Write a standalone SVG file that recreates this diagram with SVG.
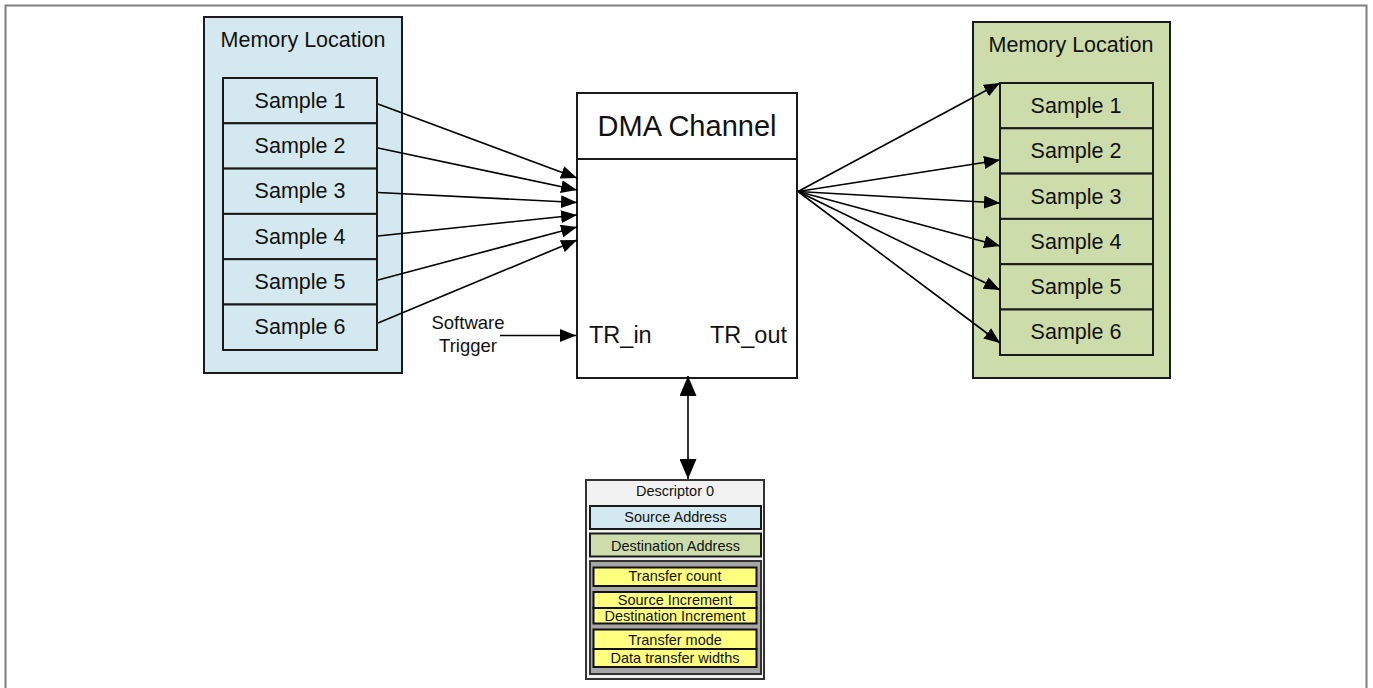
<svg xmlns="http://www.w3.org/2000/svg" width="1373" height="688" viewBox="0 0 1373 688">
<defs>
<style>
text{font-family:"Liberation Sans",Arial,sans-serif;fill:#111;text-anchor:middle}
.blue{fill:#d4e9ef;stroke:#1a1a1a;stroke-width:2}
.green{fill:#cddcab;stroke:#1a1a1a;stroke-width:2}
.white{fill:#fff;stroke:#1a1a1a;stroke-width:2}
.yel{fill:#ffff80;stroke:#111;stroke-width:2}
.lbl{font-size:21.5px}
.sm{font-size:14.5px}
.conn line{stroke:#000;stroke-width:1.6;fill:none}
</style>
<marker id="ah" markerUnits="userSpaceOnUse" markerWidth="16" markerHeight="13" refX="16" refY="6.5" orient="auto"><path d="M0,0 L16,6.5 L0,13 z" fill="#000"/></marker>
<marker id="big" markerUnits="userSpaceOnUse" markerWidth="20" markerHeight="17" refX="20" refY="8.5" orient="auto"><path d="M0,0 L20,8.5 L0,17 z" fill="#000"/></marker>
<marker id="bigs" markerUnits="userSpaceOnUse" markerWidth="20" markerHeight="17" refX="0" refY="8.5" orient="auto"><path d="M20,0 L0,8.5 L20,17 z" fill="#000"/></marker>
</defs>
<rect x="0" y="0" width="1373" height="688" fill="#fff"/>
<rect x="5.5" y="5.5" width="1361" height="700" fill="none" stroke="#7f7f7f" stroke-width="2"/>

<g id="src-memory">
<rect class="blue" x="204" y="17" width="198" height="356"/>
<text class="lbl" x="303" y="47">Memory Location</text>
<rect class="blue" x="223" y="78" width="154" height="45.3"/>
<text class="lbl" x="300" y="108">Sample 1</text>
<rect class="blue" x="223" y="123.3" width="154" height="45.3"/>
<text class="lbl" x="300" y="153">Sample 2</text>
<rect class="blue" x="223" y="168.6" width="154" height="45.3"/>
<text class="lbl" x="300" y="198">Sample 3</text>
<rect class="blue" x="223" y="213.9" width="154" height="45.3"/>
<text class="lbl" x="300" y="244">Sample 4</text>
<rect class="blue" x="223" y="259.2" width="154" height="45.3"/>
<text class="lbl" x="300" y="289">Sample 5</text>
<rect class="blue" x="223" y="304.5" width="154" height="45.5"/>
<text class="lbl" x="300" y="334">Sample 6</text>
</g>

<g id="dst-memory">
<rect class="green" x="973" y="22" width="197" height="356"/>
<text class="lbl" x="1071" y="52">Memory Location</text>
<rect class="green" x="1000" y="83" width="153" height="45.3"/>
<text class="lbl" x="1076" y="113">Sample 1</text>
<rect class="green" x="1000" y="128.3" width="153" height="45.3"/>
<text class="lbl" x="1076" y="158">Sample 2</text>
<rect class="green" x="1000" y="173.6" width="153" height="45.3"/>
<text class="lbl" x="1076" y="204">Sample 3</text>
<rect class="green" x="1000" y="218.9" width="153" height="45.3"/>
<text class="lbl" x="1076" y="249">Sample 4</text>
<rect class="green" x="1000" y="264.2" width="153" height="45.3"/>
<text class="lbl" x="1076" y="294">Sample 5</text>
<rect class="green" x="1000" y="309.5" width="153" height="45.5"/>
<text class="lbl" x="1076" y="339">Sample 6</text>
</g>

<g id="dma-channel">
<rect class="white" x="577" y="93" width="220" height="285"/>
<line x1="577" y1="159" x2="797" y2="159" stroke="#1a1a1a" stroke-width="2"/>
<text x="687" y="136" style="font-size:29px">DMA Channel</text>
<text x="589" y="343" style="font-size:23.5px;text-anchor:start">TR_in</text>
<text x="787" y="343" style="font-size:23.5px;text-anchor:end">TR_out</text>
</g>

<g id="software-trigger">
<text x="468" y="329" style="font-size:18.5px">Software</text>
<text x="468" y="352" style="font-size:18.5px">Trigger</text>
</g>

<g id="descriptor">
<rect x="586" y="480" width="178" height="199" fill="#f2f2f2" stroke="#333" stroke-width="2"/>
<text class="sm" x="675" y="495.5">Descriptor 0</text>
<rect class="blue" x="590" y="506" width="171" height="23"/>
<text class="sm" x="675.5" y="522">Source Address</text>
<rect class="green" x="590" y="533.5" width="171" height="23"/>
<text class="sm" x="675.5" y="550.5">Destination Address</text>
<rect x="590" y="561" width="171" height="113" fill="#a6a6a6" stroke="#333" stroke-width="2"/>
<rect class="yel" x="593.5" y="567.5" width="163" height="18.5"/>
<text class="sm" x="675" y="581">Transfer count</text>
<rect class="yel" x="593.5" y="592" width="163" height="16"/>
<rect class="yel" x="593.5" y="608" width="163" height="15.5"/>
<text class="sm" x="675" y="605">Source Increment</text>
<text class="sm" x="675" y="621">Destination Increment</text>
<rect class="yel" x="593.5" y="629.5" width="163" height="19.5"/>
<rect class="yel" x="593.5" y="649" width="163" height="18"/>
<text class="sm" x="675" y="645">Transfer mode</text>
<text class="sm" x="675" y="662.5">Data transfer widths</text>
</g>

<g id="connectors" class="conn">
<line x1="378" y1="104" x2="577" y2="178" marker-end="url(#ah)"/>
<line x1="378" y1="148" x2="577" y2="190" marker-end="url(#ah)"/>
<line x1="378" y1="192.5" x2="577" y2="202.5" marker-end="url(#ah)"/>
<line x1="378" y1="236" x2="577" y2="215" marker-end="url(#ah)"/>
<line x1="378" y1="280" x2="577" y2="227" marker-end="url(#ah)"/>
<line x1="378" y1="323" x2="577" y2="240" marker-end="url(#ah)"/>
<line x1="500" y1="335.5" x2="576" y2="335.5" marker-end="url(#ah)"/>
<line x1="798" y1="191.5" x2="1000" y2="83" marker-end="url(#ah)"/>
<line x1="798" y1="191.5" x2="1000" y2="160" marker-end="url(#ah)"/>
<line x1="798" y1="191.5" x2="1000" y2="203" marker-end="url(#ah)"/>
<line x1="798" y1="191.5" x2="1000" y2="246" marker-end="url(#ah)"/>
<line x1="798" y1="191.5" x2="1000" y2="290" marker-end="url(#ah)"/>
<line x1="798" y1="191.5" x2="1000" y2="343" marker-end="url(#ah)"/>
<line x1="688" y1="376" x2="688" y2="479" stroke-width="2" marker-start="url(#bigs)" marker-end="url(#big)"/>
</g>
</svg>
